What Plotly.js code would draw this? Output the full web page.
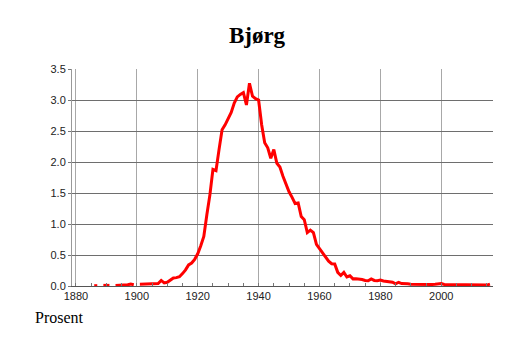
<!DOCTYPE html>
<html>
<head>
<meta charset="utf-8">
<script src="https://cdn.plot.ly/plotly-3.0.1.min.js"></script>
<style>html,body{margin:0;padding:0;background:#fff;}#chart{width:514px;height:343px;}</style>
</head>
<body>
<div id="chart"></div>
<script>
// Share of population named Bjørg (percent), by year; null = no data
const years = [];
for (let y = 1886; y <= 2016; y++) years.push(y);

const percent = [
  // 1886-1899
  0.005, 0.005, null, 0.01, 0.015, 0.01, null, 0.01, 0.01, 0.01, 0.015, 0.02, 0.03, 0.02,
  // 1900-1909
  null, 0.03, 0.03, 0.03, 0.035, 0.04, 0.03, 0.04, 0.09, 0.05,
  // 1910-1919
  0.06, 0.10, 0.13, 0.135, 0.15, 0.20, 0.26, 0.34, 0.37, 0.43,
  // 1920-1929
  0.52, 0.65, 0.80, 1.15, 1.47, 1.88, 1.86, 2.20, 2.52, 2.60,
  // 1930-1939
  2.70, 2.80, 2.95, 3.05, 3.09, 3.12, 2.92, 3.27, 3.06, 3.02,
  // 1940-1949
  3.00, 2.60, 2.31, 2.23, 2.06, 2.20, 1.98, 1.92, 1.77, 1.63,
  // 1950-1959
  1.52, 1.43, 1.33, 1.34, 1.12, 1.07, 0.86, 0.90, 0.86, 0.67,
  // 1960-1969
  0.60, 0.55, 0.48, 0.40, 0.36, 0.355, 0.22, 0.17, 0.22, 0.145,
  // 1970-1979
  0.165, 0.115, 0.118, 0.115, 0.105, 0.09, 0.085, 0.115, 0.09, 0.085,
  // 1980-1989
  0.095, 0.08, 0.07, 0.06, 0.06, 0.035, 0.06, 0.04, 0.032, 0.035,
  // 1990-1999
  0.03, 0.028, 0.03, 0.025, 0.028, 0.025, 0.03, 0.025, 0.028, 0.03,
  // 2000-2009
  0.04, 0.025, 0.025, 0.02, 0.025, 0.02, 0.022, 0.018, 0.015, 0.015,
  // 2010-2016
  0.015, 0.015, 0.018, 0.015, 0.015, 0.015, 0.03
];

const yTicks = [0, 0.5, 1.0, 1.5, 2.0, 2.5, 3.0, 3.5];
const xTicks = [1880, 1900, 1920, 1940, 1960, 1980, 2000];

const trace = {
  x: years,
  y: percent,
  type: 'scatter',
  mode: 'lines',
  connectgaps: false,
  line: {color: '#ff0000', width: 3},
  hoverinfo: 'skip'
};

const layout = {
  width: 514,
  height: 343,
  margin: {l: 72, r: 21, t: 69, b: 57},
  paper_bgcolor: '#ffffff',
  plot_bgcolor: '#ffffff',
  showlegend: false,
  title: {
    text: '<b>Bjørg</b>',
    font: {family: 'Liberation Serif, Times New Roman, serif', size: 23, color: '#000'},
    x: 0.5, xref: 'container', xanchor: 'center',
    y: 1 - 35 / 343, yref: 'container', yanchor: 'middle'
  },
  xaxis: {
    range: [1878.7, 2017.0],
    tickmode: 'array',
    tickvals: xTicks,
    ticktext: xTicks.map(String),
    showgrid: true,
    gridcolor: '#a8a8a8',
    gridwidth: 1,
    zeroline: false,
    showline: true,
    linecolor: '#555',
    linewidth: 1,
    ticks: 'inside',
    ticklen: 3,
    tickcolor: '#777',
    minor: {dtick: 5, tick0: 1880, ticks: 'inside', ticklen: 3, tickcolor: '#777', showgrid: false},
    tickfont: {family: 'Liberation Sans, Arial, sans-serif', size: 11, color: '#222'},
    fixedrange: true
  },
  yaxis: {
    range: [0, 3.5],
    tickmode: 'array',
    tickvals: yTicks,
    ticktext: yTicks.map(v => v.toFixed(1)),
    showgrid: true,
    gridcolor: '#6e6e6e',
    gridwidth: 1,
    zeroline: false,
    showline: true,
    linecolor: '#999',
    linewidth: 1,
    ticks: 'outside',
    ticklen: 3,
    tickcolor: '#777',
    tickfont: {family: 'Liberation Sans, Arial, sans-serif', size: 11, color: '#222'},
    fixedrange: true
  },
  annotations: [{
    text: 'Prosent',
    xref: 'paper', yref: 'paper',
    x: (33 - 72) / 421, y: (286.3 - 318) / 217.3,
    xanchor: 'left', yanchor: 'middle',
    showarrow: false,
    font: {family: 'Liberation Serif, Times New Roman, serif', size: 16, color: '#000'}
  }]
};

Plotly.newPlot('chart', [trace], layout, {displayModeBar: false, staticPlot: true});
</script>
</body>
</html>
